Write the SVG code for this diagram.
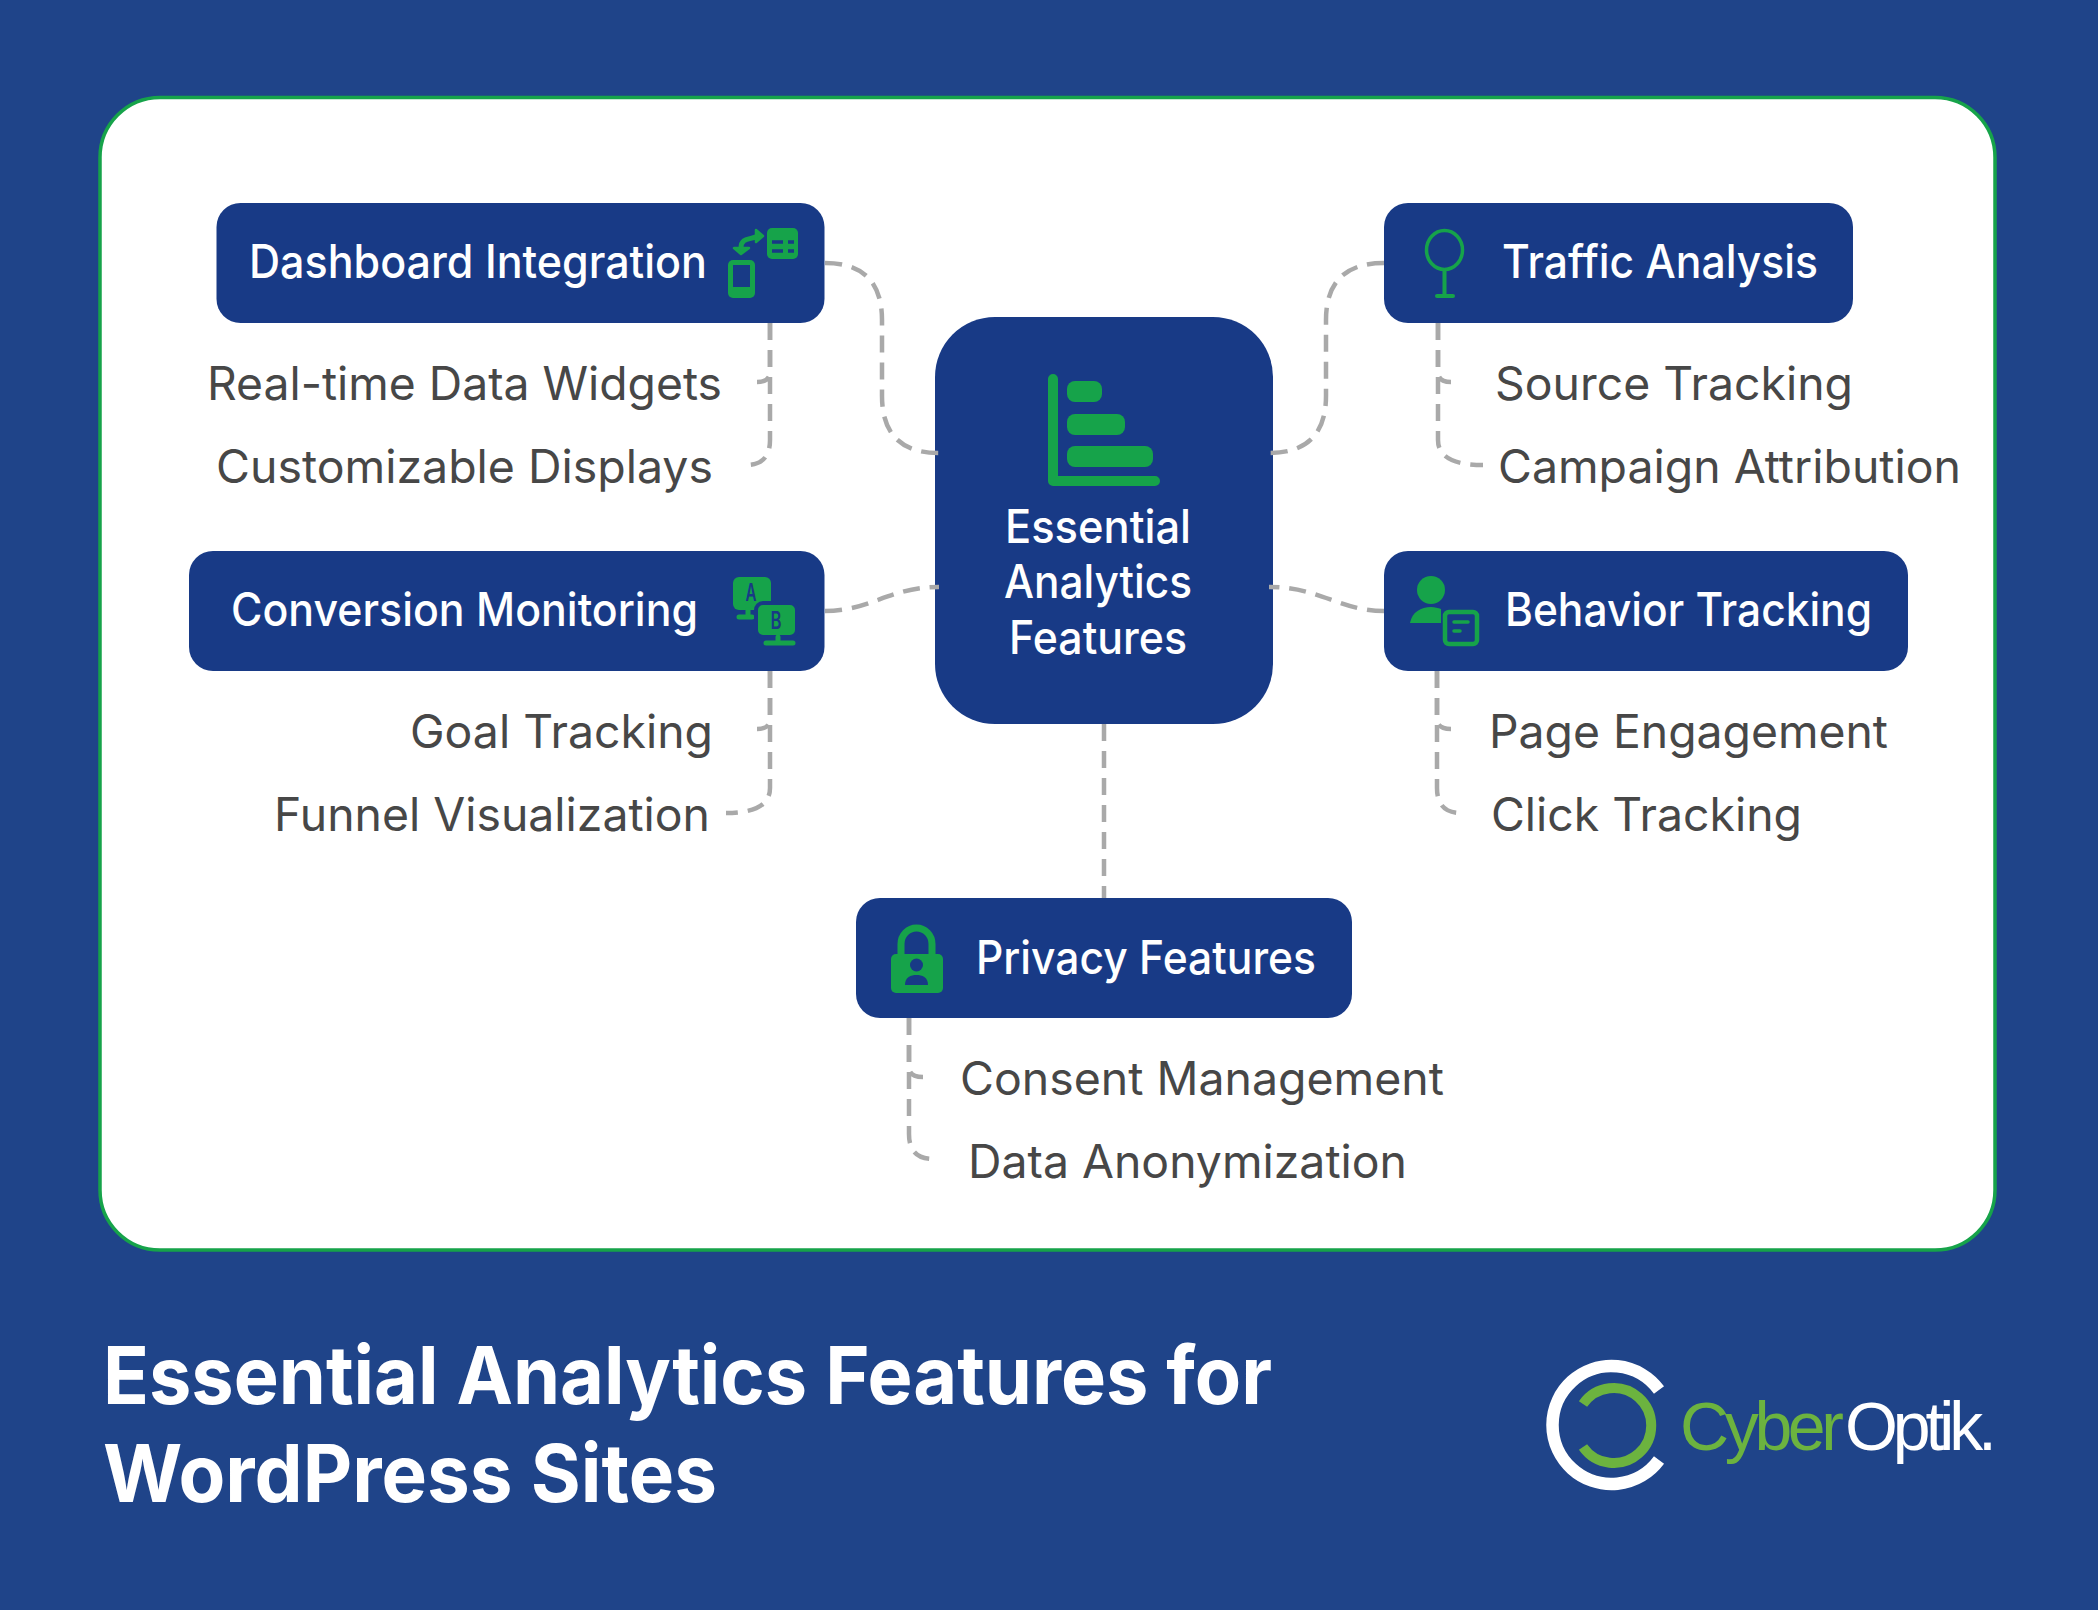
<svg xmlns="http://www.w3.org/2000/svg" width="2098" height="1610" viewBox="0 0 2098 1610">
<style>
.n{fill:#183a86}
.g{fill:#16a34a}
.gs{fill:none;stroke:#16a34a;stroke-linecap:round;stroke-linejoin:round}
.c{fill:none;stroke:#a9a9a9;stroke-width:4.500;stroke-dasharray:17 10}
text{font-family:Inter,"Liberation Sans",sans-serif}
.t{fill:#fff;font-size:46px;font-weight:500}
.s{fill:#474747;font-size:46px;font-weight:400}
.h{fill:#fff;font-size:80px;font-weight:700}
.l{font-family:"Liberation Sans",Arial,sans-serif;font-size:68px;font-weight:400}
.k{fill:#183a86;font-size:24px;font-weight:600;text-anchor:middle}
</style>
<rect width="2098" height="1610" fill="#1f4489"/>
<rect id="panel" x="100" y="97.500" width="1895" height="1152.500" rx="60" fill="#fff" stroke="#16a34a" stroke-width="3.500"/>
<g id="node-center">
<rect class="n" x="935" y="317" width="338" height="407" rx="60"/>
<path class="gs" d="M1053 379V481H1155" stroke-width="10"/>
<rect class="g" x="1067" y="381" width="35" height="21" rx="8"/>
<rect class="g" x="1067" y="414" width="58" height="21" rx="8"/>
<rect class="g" x="1067" y="446" width="86" height="21" rx="8"/>
<text class="t" x="1005" y="543" textLength="186" lengthAdjust="spacingAndGlyphs">Essential</text>
<text class="t" x="1004" y="598" textLength="188" lengthAdjust="spacingAndGlyphs">Analytics</text>
<text class="t" x="1009" y="654" textLength="178" lengthAdjust="spacingAndGlyphs">Features</text>
</g>
<g id="node-dashboard">
<rect class="n" x="216.500" y="203" width="608" height="120" rx="24"/>
<text class="t" x="249" y="278" textLength="458" lengthAdjust="spacingAndGlyphs">Dashboard Integration</text>
<rect class="g" x="767" y="228" width="31" height="31" rx="5"/>
<path d="M772 242H783M788 242H794M772 251H783M788 251H794" stroke="#183a86" stroke-width="3.500" fill="none"/>
<rect class="g" x="728" y="260" width="27" height="38" rx="5"/>
<rect class="n" x="733" y="265" width="17" height="22"/>
<path class="gs" d="M741 248C741 237 751 240 758 236" stroke-width="5"/>
<path class="g" d="M756 230L763 236L756 242ZM734 248H749L741 254Z" stroke="#16a34a" stroke-width="2.500" stroke-linejoin="round"/>
<text class="s" x="207" y="400" textLength="515" lengthAdjust="spacingAndGlyphs">Real-time Data Widgets</text>
<text class="s" x="216" y="483" textLength="497" lengthAdjust="spacingAndGlyphs">Customizable Displays</text>
</g>
<g id="node-conversion">
<rect class="n" x="189" y="551" width="635.500" height="120" rx="24"/>
<text class="t" x="231" y="626" textLength="467" lengthAdjust="spacingAndGlyphs">Conversion Monitoring</text>
<rect class="g" x="733" y="577" width="38" height="33" rx="6"/>
<path class="gs" d="M739 617H752M748 610V617" stroke-width="5"/>
<rect class="g" x="756" y="603" width="41" height="34" rx="7" stroke="#183a86" stroke-width="4"/>
<path class="gs" d="M766 643H793M778 637V643" stroke-width="5"/>
<text class="k" x="751" y="601" textLength="11" lengthAdjust="spacingAndGlyphs">A</text>
<text class="k" x="776" y="629" textLength="11" lengthAdjust="spacingAndGlyphs">B</text>
<text class="s" x="410" y="748" textLength="303" lengthAdjust="spacingAndGlyphs">Goal Tracking</text>
<text class="s" x="274" y="831" textLength="436" lengthAdjust="spacingAndGlyphs">Funnel Visualization</text>
</g>
<g id="node-traffic">
<rect class="n" x="1384" y="203" width="469" height="120" rx="24"/>
<ellipse cx="1444.500" cy="250" rx="18" ry="19.500" fill="none" stroke="#16a34a" stroke-width="3.500"/>
<path class="gs" d="M1444.500 270V296M1437 296H1453" stroke-width="4"/>
<text class="t" x="1502" y="278" textLength="316" lengthAdjust="spacingAndGlyphs">Traffic Analysis</text>
<text class="s" x="1495" y="400" textLength="358" lengthAdjust="spacingAndGlyphs">Source Tracking</text>
<text class="s" x="1498" y="483" textLength="463" lengthAdjust="spacingAndGlyphs">Campaign Attribution</text>
</g>
<g id="node-behavior">
<rect class="n" x="1384" y="551" width="524" height="120" rx="24"/>
<circle class="g" cx="1431" cy="590" r="14"/>
<path class="g" d="M1410 623C1412 612 1421 607 1431 607C1435 607 1438 608 1441 609V623Z"/>
<rect x="1445" y="612" width="32" height="32" rx="4" fill="none" stroke="#16a34a" stroke-width="4.500"/>
<path class="gs" d="M1454 622H1468M1454 631H1460" stroke-width="3.500"/>
<text class="t" x="1505" y="626" textLength="367" lengthAdjust="spacingAndGlyphs">Behavior Tracking</text>
<text class="s" x="1489" y="748" textLength="399" lengthAdjust="spacingAndGlyphs">Page Engagement</text>
<text class="s" x="1491" y="831" textLength="311" lengthAdjust="spacingAndGlyphs">Click Tracking</text>
</g>
<g id="node-privacy">
<rect class="n" x="856" y="898" width="496" height="120" rx="24"/>
<path class="gs" d="M901 956V944A15.500 16 0 0 1 932 944V956" stroke-width="7"/>
<rect class="g" x="891" y="954" width="52" height="39" rx="5"/>
<circle class="n" cx="916.500" cy="965" r="6.500"/>
<path class="n" d="M905 985C905 977 911 975 916.500 975C922 975 928 977 928 985Z"/>
<text class="t" x="976" y="974" textLength="340" lengthAdjust="spacingAndGlyphs">Privacy Features</text>
<text class="s" x="960" y="1095" textLength="484" lengthAdjust="spacingAndGlyphs">Consent Management</text>
<text class="s" x="968" y="1178" textLength="439" lengthAdjust="spacingAndGlyphs">Data Anonymization</text>
</g>
<g id="connectors">
<path class="c" d="M825 263Q882 263 882 320V396Q882 453 939 453"/>
<path class="c" d="M825 611C870 611 890 587 939 587"/>
<path class="c" d="M1384 263Q1326 263 1326 320V396Q1326 453 1269 453"/>
<path class="c" d="M1384 611C1340 611 1320 587 1269 587"/>
<path class="c" d="M1104 724V898"/>
<path class="c" d="M770 323V372Q770 382 757 382"/>
<path class="c" d="M770 323V440Q770 465 746 465"/>
<path class="c" d="M770 671V719Q770 729 757 729"/>
<path class="c" d="M770 671V788Q770 813 726 813"/>
<path class="c" d="M1438 323V372Q1438 382 1451 382"/>
<path class="c" d="M1438 323V440Q1438 465 1483 465"/>
<path class="c" d="M1437 671V719Q1437 729 1451 729"/>
<path class="c" d="M1437 671V788Q1437 813 1461 813"/>
<path class="c" d="M909 1018V1067Q909 1077 923 1077"/>
<path class="c" d="M909 1018V1134Q909 1159 933 1159"/>
</g>
<g id="title">
<text class="h" x="103" y="1404" textLength="1169" lengthAdjust="spacingAndGlyphs">Essential Analytics Features for</text>
<text class="h" x="103" y="1502" textLength="614" lengthAdjust="spacingAndGlyphs">WordPress Sites</text>
</g>
<g id="logo">
<path d="M1659 1390A59 59 0 1 0 1659 1460" fill="none" stroke="#fff" stroke-width="12.500"/>
<path d="M1583 1404A37.500 37.500 0 1 1 1583 1447" fill="none" stroke="#6cb33f" stroke-width="10"/>
<text class="l" x="1680" y="1450" fill="#6cb33f" textLength="164" lengthAdjust="spacing">Cyber</text>
<text class="l" x="1845" y="1450" fill="#fff" textLength="152" lengthAdjust="spacing">Optik.</text>
</g>
</svg>
